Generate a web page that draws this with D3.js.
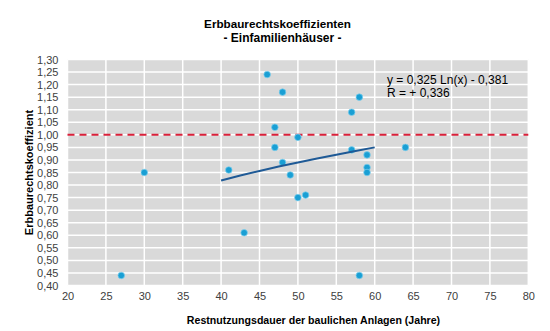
<!DOCTYPE html>
<html><head><meta charset="utf-8">
<script src="https://cdn.jsdelivr.net/npm/d3@7"></script>
<style>
body{margin:0;background:#fff;}
text{font-family:"Liberation Sans",Arial,sans-serif;}
</style></head>
<body><svg id="c" width="550" height="331"></svg>
<script>
const xValues = [27,30,41,43,46,47,47,48,48,49,50,50,51,57,57,58,58,59,59,59,64];
const yValues = [0.44,0.85,0.86,0.61,1.24,1.03,0.95,1.17,0.89,0.84,0.99,0.75,0.76,1.09,0.94,1.15,0.44,0.92,0.87,0.85,0.95];
const trendX = [40,42.5,45,47.5,50,52.5,55,57.5,60];
const trendY = [0.818,0.838,0.856,0.874,0.890,0.906,0.921,0.936,0.950];
const xTicks = [20,25,30,35,40,45,50,55,60,65,70,75,80];
const yTicks = [0.40,0.45,0.50,0.55,0.60,0.65,0.70,0.75,0.80,0.85,0.90,0.95,1.00,1.05,1.10,1.15,1.20,1.25,1.30];
const refLine = [1.00];
const titleLines = ["Erbbaurechtskoeffizienten","- Einfamilienhäuser -"];
const eqLines = ["y = 0,325 Ln(x) - 0,381","R = + 0,336"];
const xTitle = "Restnutzungsdauer der baulichen Anlagen (Jahre)";
const yTitle = "Erbbaurechtskoeffizient";

const svg = d3.select("#c");
const L=67.5, R=528.3, T=59.5, B=285.5;
const x = d3.scaleLinear().domain([20,80]).range([L,R]);
const y = d3.scaleLinear().domain([0.40,1.30]).range([B,T]);
const fmt = d => d.toFixed(2).replace(".",",");

svg.append("rect").attr("x",L).attr("y",T).attr("width",R-L).attr("height",B-T).attr("fill","#d9d9d9");

svg.append("g").selectAll("line").data(yTicks).join("line")
  .attr("x1",L).attr("x2",R).attr("y1",d=>y(d)).attr("y2",d=>y(d))
  .attr("stroke","#fff").attr("stroke-width",1.5);
svg.append("g").selectAll("line").data(xTicks).join("line")
  .attr("y1",T).attr("y2",B).attr("x1",d=>x(d)).attr("x2",d=>x(d))
  .attr("stroke","#fff").attr("stroke-width",1.5);

const ya = svg.append("g").attr("transform",`translate(${L},0)`)
  .call(d3.axisLeft(y).tickValues(yTicks).tickFormat(fmt).tickSize(0).tickPadding(9));
ya.select(".domain").remove();
ya.selectAll("text").attr("font-size","11px").attr("fill","#404040").style("font-family","Liberation Sans, Arial, sans-serif");
const xa = svg.append("g").attr("transform",`translate(0,${B})`)
  .call(d3.axisBottom(x).tickValues(xTicks).tickFormat(d3.format("d")).tickSize(0).tickPadding(7));
xa.select(".domain").remove();
xa.selectAll("text").attr("font-size","11px").attr("fill","#404040").style("font-family","Liberation Sans, Arial, sans-serif");

svg.append("g").selectAll("line").data(refLine).join("line")
  .attr("x1",L).attr("x2",R).attr("y1",d=>y(d)).attr("y2",d=>y(d))
  .attr("stroke","#d9203a").attr("stroke-width",2).attr("stroke-dasharray","7,5");

const pts = xValues.map((v,i)=>[v,yValues[i]]);
svg.append("g").selectAll("circle").data(pts).join("circle")
  .attr("cx",d=>x(d[0])).attr("cy",d=>y(d[1])).attr("r",3.3)
  .attr("fill","#1a9fd4").attr("stroke","#7fd0ee").attr("stroke-width",1).attr("stroke-opacity",0.7);

svg.append("path").datum(trendX.map((v,i)=>[v,trendY[i]]))
  .attr("d",d3.line().x(d=>x(d[0])).y(d=>y(d[1])))
  .attr("fill","none").attr("stroke","#1f5a96").attr("stroke-width",2);

svg.append("g").selectAll("text").data(eqLines).join("text")
  .attr("x",387).attr("y",(d,i)=>84+i*13).attr("font-size","12px").attr("fill","#000").text(d=>d);

svg.append("g").selectAll("text").data(titleLines).join("text")
  .attr("x",(d,i)=>i?282.5:277.5).attr("y",(d,i)=>28+i*13.7).attr("text-anchor","middle")
  .attr("font-size",(d,i)=>i?"12px":"11.7px").attr("font-weight","bold").attr("fill","#000").text(d=>d);
svg.append("text").attr("x",313.5).attr("y",323.5).attr("text-anchor","middle")
  .attr("font-size","10.6px").attr("font-weight","bold").attr("fill","#000").text(xTitle);
svg.append("text").attr("transform","translate(33,172.5) rotate(-90)").attr("text-anchor","middle")
  .attr("font-size","11px").attr("font-weight","bold").attr("fill","#000").text(yTitle);
</script></body></html>
